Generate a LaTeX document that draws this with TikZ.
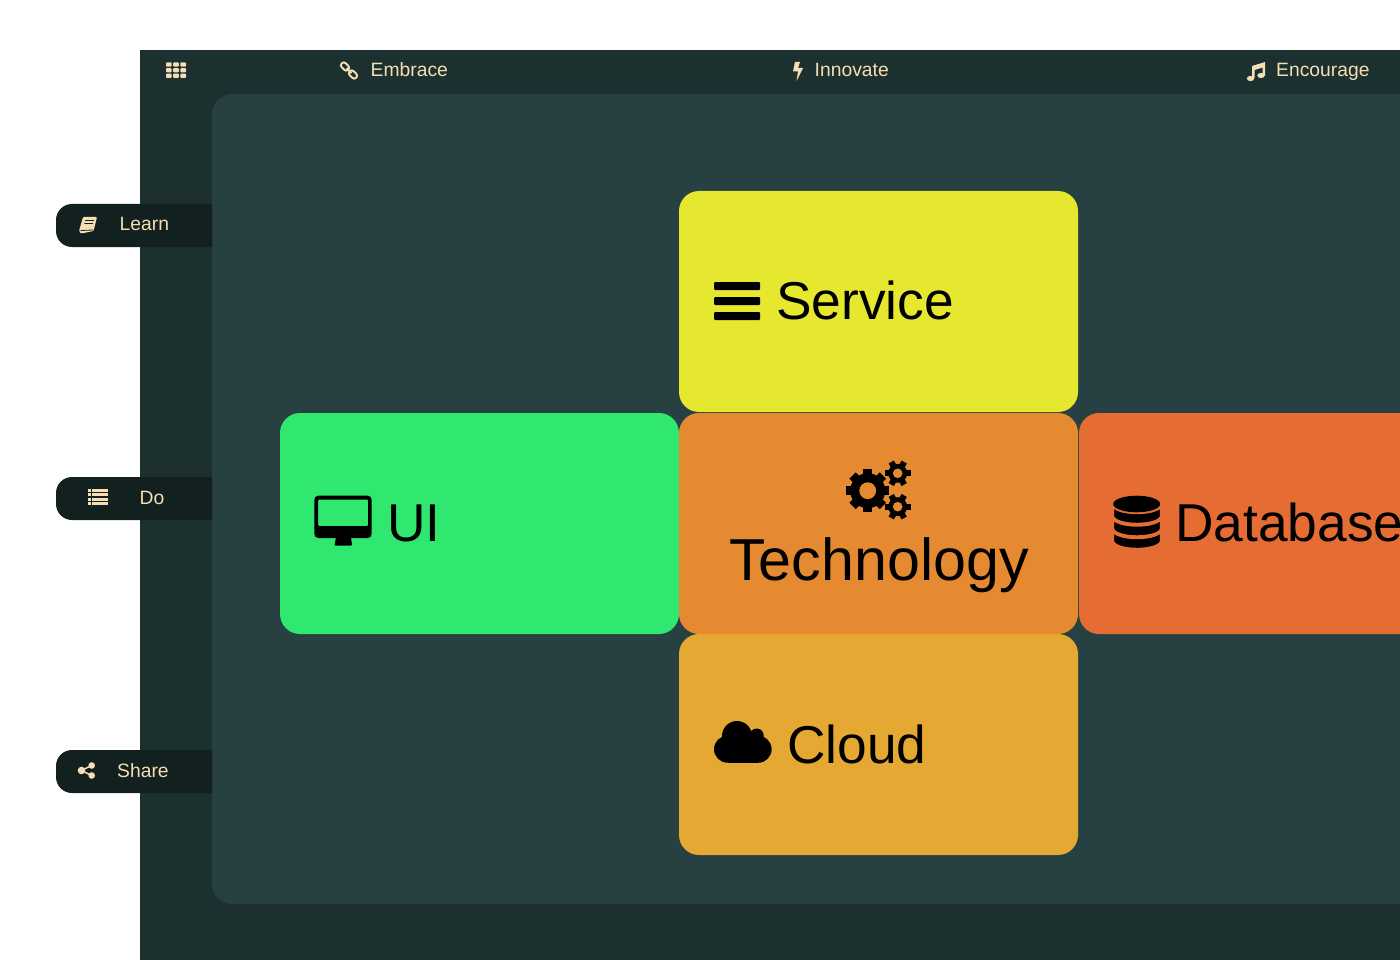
\documentclass[tikz,border=0pt]{standalone}
\usepackage{fontspec}
\setmainfont{Liberation Sans}
\usetikzlibrary{positioning}
\definecolor{frameDark}{HTML}{1D3030}
\definecolor{panelDark}{HTML}{274042}
\definecolor{pillDark}{HTML}{12201F}
\definecolor{menuText}{HTML}{F5DEB3}
\definecolor{serviceFill}{HTML}{E6E72F}
\definecolor{uiFill}{HTML}{30E86F}
\definecolor{techFill}{HTML}{E68A32}
\definecolor{dbFill}{HTML}{E56C33}
\definecolor{cloudFill}{HTML}{E5A832}
\tikzset{
    tile/.style={rounded corners=20pt, minimum width=399pt, minimum height=221pt, inner sep=0pt},
    menulabel/.style={text=menuText, anchor=base west, inner sep=0pt, font=\fontsize{19.3}{20}\selectfont},
    tilelabel/.style={text=black, anchor=base west, inner sep=0pt, font=\fontsize{53.3}{56}\selectfont},
    gearbig/.pic={
        \fill[black] (0,0) circle[radius=17.5pt];
        \foreach \a in {0,45,...,315}
            \fill[black, rotate=\a] (-4.5,-21.5) rectangle (4.5,0);
        \fill[techFill] (0,0) circle[radius=8.4pt];
    },
    gearsmall/.pic={
        \fill[black] (0,0) circle[radius=9.5pt];
        \foreach \a in {30,90,...,330}
            \fill[black, rotate=\a] (-3,-13) rectangle (3,0);
        \fill[techFill] (0,0) circle[radius=4.8pt];
    }
}
\newcommand{\pilltab}[1]{
    \fill[pillDark] (212,#1) -- (72,#1) arc[start angle=90, end angle=180, radius=16pt]
        -- (56,#1+27) arc[start angle=180, end angle=270, radius=16pt] -- (212,#1+43) -- cycle;
}
\begin{document}
\begin{tikzpicture}[x=1pt,y=-1pt]
    \useasboundingbox (0,0) rectangle (1400,960);
    % frame and panel
    \fill[frameDark] (140,50) rectangle (1400,960);
    \fill[panelDark, rounded corners=20pt] (212,94) rectangle (1460,904);
    \pilltab{204}
    \pilltab{477}
    \pilltab{750}

    % tiles
    \node[tile, fill=serviceFill] (service) at (878.5,301.5) {};
    \node[tile, fill=uiFill] (ui) at (479.5,523.5) {};
    \node[tile, fill=techFill] (tech) at (878.5,523.5) {};
    \node[tile, fill=dbFill] (db) at (1278.5,523.5) {};
    \node[tile, fill=cloudFill] (cloud) at (878.5,744.5) {};

    \node[tilelabel] (servicetext) at (776,319.5) {Service};
    \node[tilelabel] (uitext) at (387,541.5) {UI};
    \node[tilelabel, font=\fontsize{59.2}{60}\selectfont, anchor=base] (techtext) at (879,580) {Technology};
    \node[tilelabel] (dbtext) at (1175,541.5) {Database};
    \node[tilelabel] (cloudtext) at (787,763.5) {Cloud};

    % menu texts
    \node[menulabel] (embrace) at (370.5,77) {Embrace};
    \node[menulabel] (innovate) at (814.5,77) {Innovate};
    \node[menulabel] (encourage) at (1276,77) {Encourage};
    \node[menulabel] (learn) at (119.5,231) {Learn};
    \node[menulabel] (do) at (139.5,504) {Do};
    \node[menulabel] (share) at (117,777) {Share};

    % top icons
    \foreach \x in {0,1,2}
        \foreach \y in {0,1,2}
            \fill[menuText, rounded corners=0.8pt] (166+\x*7.2,62.5+\y*5.6) rectangle ++(5.6,4.2);
    \begin{scope}[shift={(345,66.5)}, rotate=-45, draw=menuText, line width=1.9pt]
        \draw[rounded corners=2.5pt] (-4.5,-2.8) rectangle (4.5,2.8);
    \end{scope}
    \begin{scope}[shift={(353,74.5)}, rotate=-45, draw=menuText, line width=1.9pt]
        \draw[rounded corners=2.5pt] (-4.5,-2.8) rectangle (4.5,2.8);
    \end{scope}
    \draw[menuText, line width=1.9pt] (346.5,68) -- (351.5,73);
    \fill[menuText] (795,62) -- (800,62) -- (798,68) -- (803,68) -- (796.5,81) -- (798,71.5) -- (793,71.5) -- cycle;
    \fill[menuText] (1252,66) -- (1265,62) -- (1265,76) -- (1262.5,76) -- (1262.5,67.5) -- (1254.5,70) -- (1254.5,78) -- (1252,78) -- cycle;
    \fill[menuText] (1250.5,78.5) ellipse[x radius=3.7pt, y radius=2.6pt];
    \fill[menuText] (1261,75.5) ellipse[x radius=3.7pt, y radius=2.6pt];

    % side icons
    \fill[menuText, rounded corners=1pt] (83,217) -- (97,217) -- (93.5,231) -- (81,233.5) -- (79,231) -- cycle;
    \draw[pillDark, line width=0.8pt] (80.5,230.5) -- (93,230) (85,220.5) -- (94,220.5) (84.3,223.5) -- (93.2,223.5);
    \foreach \y in {489,493.4,497.8,502.2} {
        \fill[menuText] (88,\y) rectangle ++(3,3);
        \fill[menuText] (92,\y) rectangle ++(16.3,3);
    }
    \draw[menuText, line width=1.5pt] (91.5,765.5) -- (81.5,770.5) -- (91.5,775.5);
    \fill[menuText] (81.5,770.5) circle[radius=3.8pt] (91.7,765.5) circle[radius=3.3pt] (91.7,775.5) circle[radius=3.3pt];

    % tile icons
    \foreach \y in {282,297,312}
        \fill[black, rounded corners=1pt] (714,\y) rectangle (760,\y+8);

    \fill[black, even odd rule, rounded corners=4pt] (314.3,495.7) rectangle (371.7,538)
        [rounded corners=1pt] (318,499.5) rectangle (368,526);
    \fill[black, rounded corners=0.8pt] (336,537) -- (351,537) -- (352,545.5) -- (334.5,545.5) -- cycle;

    \foreach \y in {534,521.5,509} {
        \filldraw[black, draw=dbFill, line width=2.4pt] (1113,\y-4) arc[start angle=180, end angle=360, x radius=24pt, y radius=8pt]
            -- (1161,\y+7) arc[start angle=0, end angle=-180, x radius=24pt, y radius=8pt] -- cycle;
    }
    \fill[black] (1136.7,504) ellipse[x radius=23.5pt, y radius=8.3pt];

    \fill[black] (737,736) circle[radius=15pt] (756.7,735.5) circle[radius=7pt]
        (727.5,749.2) circle[radius=13.5pt] (758,749.2) circle[radius=13.6pt];
    \fill[black] (727.5,745) rectangle (758,762.7);

    \pic at (867.7,490.7) {gearbig};
    \pic at (897.7,473.3) {gearsmall};
    \pic at (897.7,506.7) {gearsmall};
\end{tikzpicture}
\end{document}
